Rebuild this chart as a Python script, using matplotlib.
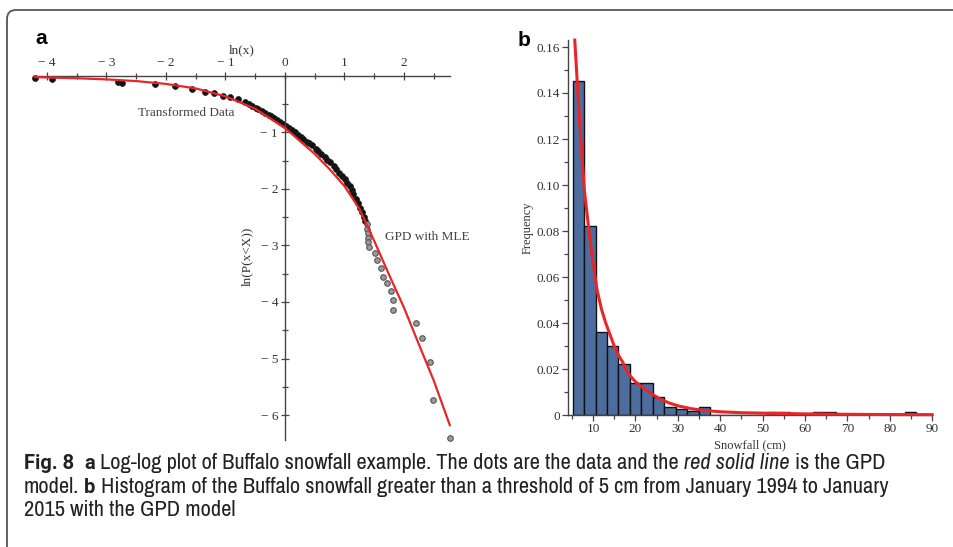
import matplotlib
matplotlib.use('Agg')
import matplotlib.pyplot as plt
import matplotlib.font_manager as fm
from matplotlib.patches import FancyBboxPatch
from matplotlib.transforms import IdentityTransform
from matplotlib.ticker import MultipleLocator, FuncFormatter

# ---------------- data ----------------
# Panel a: transformed data, ln(x) vs ln(P(x<X))
pts_black_lnx = [-4.20, -3.92, -2.81, -2.74, -2.18, -1.85, -1.56, -1.34, -1.19, -1.04, -0.92, -0.79, -0.67,
                 -0.60, -0.55, -0.49, -0.45, -0.38, -0.34, -0.27, -0.24, -0.18, -0.13, -0.09, -0.04, 0.01,
                 0.06, 0.12, 0.16, 0.22, 0.27, 0.31, 0.37, 0.41, 0.46, 0.52, 0.56, 0.61, 0.67, 0.71, 0.76,
                 0.82, 0.86, 0.91, 0.96, 1.01, 1.05, 1.09, 1.12, 1.15, 1.19, 1.22, 1.26, 1.29, 1.32, 1.35]
pts_black_lnp = [-0.035, -0.05, -0.11, -0.12, -0.14, -0.18, -0.23, -0.28, -0.30, -0.35, -0.37, -0.41, -0.46,
                 -0.50, -0.53, -0.56, -0.59, -0.62, -0.65, -0.69, -0.71, -0.75, -0.78, -0.81, -0.85, -0.88,
                 -0.92, -0.96, -0.99, -1.04, -1.08, -1.11, -1.16, -1.19, -1.23, -1.29, -1.33, -1.38, -1.44,
                 -1.48, -1.53, -1.60, -1.65, -1.71, -1.77, -1.83, -1.89, -1.95, -2.02, -2.09, -2.17, -2.24,
                 -2.33, -2.41, -2.49, -2.56]
pts_grey_lnx = [1.37, 1.38, 1.39, 1.40, 1.40, 1.41, 1.51, 1.54, 1.62, 1.65, 1.72, 1.78, 1.81, 1.82,
                2.21, 2.30, 2.44, 2.49, 2.77]
pts_grey_lnp = [-2.62, -2.70, -2.78, -2.86, -2.94, -3.02, -3.14, -3.26, -3.40, -3.55, -3.67, -3.80,
                -3.96, -4.14, -4.37, -4.64, -5.06, -5.73, -6.41]
gpd_a_lnx = [-4.20, -3.50, -3.00, -2.50, -2.00, -1.50, -1.00, -0.50, 0.00, 0.50, 0.75, 1.00, 1.25,
             1.50, 1.75, 2.00, 2.25, 2.50, 2.77]
gpd_a_lnp = [-0.02, -0.04, -0.06, -0.09, -0.14, -0.22, -0.36, -0.58, -0.92, -1.38, -1.65, -1.95, -2.35,
             -2.92, -3.52, -4.10, -4.75, -5.39, -6.18]
xticks_a = [-4, -3, -2, -1, 0, 1, 2]
yticks_a = [-1, -2, -3, -4, -5, -6]

# Panel b: histogram of snowfall > 5 cm
bin_edges = [5.2, 7.9, 10.6, 13.3, 16.0, 18.7, 21.4, 24.1, 26.8, 29.5, 32.2, 34.9, 37.6, 40.3, 43.0,
             45.7, 48.4, 51.1, 53.8, 56.5, 59.2, 61.9, 64.6, 67.3, 70.0, 72.7, 75.4, 78.1, 80.8, 83.5, 86.2]
freq = [0.145, 0.082, 0.036, 0.030, 0.022, 0.014, 0.014, 0.008, 0.0033, 0.0027, 0.0017, 0.0036, 0, 0,
        0, 0, 0, 0.0014, 0.0014, 0, 0, 0.0014, 0.0014, 0, 0, 0, 0, 0, 0, 0.0014]
gpd_b_x = [5.7, 6.5, 7.3, 8.0, 9.0, 10.0, 11.0, 12.0, 13.0, 14.0, 15.0, 16.0, 17.0, 18.0, 19.0, 20.0,
           22.0, 24.0, 26.0, 28.0, 30.0, 33.0, 36.0, 40.0, 45.0, 50.0, 60.0, 70.0, 80.0, 90.0]
gpd_b_y = [0.163, 0.138, 0.115, 0.097, 0.081, 0.066, 0.054, 0.046, 0.040, 0.035, 0.030, 0.026, 0.023,
           0.019, 0.0165, 0.0145, 0.0115, 0.009, 0.0068, 0.0052, 0.0040, 0.0028, 0.0020, 0.0014, 0.0010,
           0.0008, 0.0005, 0.0003, 0.0002, 0.00015]
xticks_b = [10, 20, 30, 40, 50, 60, 70, 80, 90]
yticks_b = [0, 0.02, 0.04, 0.06, 0.08, 0.10, 0.12, 0.14, 0.16]

caption_lines = [
    [("Fig. 8", "bold", "normal"), ("  ", None, None), ("a", "bold", "normal"),
     (" Log-log plot of Buffalo snowfall example. The dots are the data and the", "normal", "normal"),
     (" ", None, None), ("red solid line", "normal", "italic"), (" is the GPD", "normal", "normal")],
    [("model.", "normal", "normal"), (" ", None, None), ("b", "bold", "normal"),
     (" Histogram of the Buffalo snowfall greater than a threshold of 5 cm from January 1994 to January",
      "normal", "normal")],
    [("2015 with the GPD model", "normal", "normal")],
]

# ---------------- figure ----------------
W, H = 954, 547
fig = plt.figure(figsize=(W / 100, H / 100), dpi=100)
fig.patch.set_facecolor('white')

serif = ['Liberation Serif', 'DejaVu Serif']
entries = fm.fontManager.ttflist


def wnum(w):
    if isinstance(w, (int, float)):
        return w
    return {'bold': 700, 'semibold': 600, 'demibold': 600, 'heavy': 800, 'black': 900,
            'extra bold': 800, 'normal': 400, 'regular': 400}.get(str(w).lower(), 400)


def pick_caption_font():
    for f in entries:
        if 'Narrow' in f.name or ('Condensed' in f.name and 'Sans' in f.name):
            return f.name, 'normal'
    for fam in ['Open Sans', 'Noto Sans', 'DejaVu Sans', 'Roboto']:
        for f in entries:
            if f.name == fam and str(f.stretch) in ('condensed', 'semi-condensed'):
                return fam, str(f.stretch)
    return ('Roboto' if any(f.name == 'Roboto' for f in entries) else 'Liberation Sans'), 'normal'


cap_font, cap_stretch = pick_caption_font()
has_bold = any(f.name == cap_font and wnum(f.weight) >= 600 for f in entries)
if has_bold:
    bold_font, bold_stretch, bold_scale = cap_font, cap_stretch, 1.0
else:
    bold_font = 'Roboto' if any(f.name == 'Roboto' for f in entries) else 'Liberation Sans'
    bold_stretch, bold_scale = 'normal', 0.9


def run_font(weight):
    if weight == 'bold':
        return bold_font, bold_stretch, bold_scale
    return cap_font, cap_stretch, 1.0


# outer frame (clipped at right and bottom)
frame = FancyBboxPatch((7, -30), 990, H - 10 + 30, boxstyle="round,pad=0,rounding_size=9",
                       transform=IdentityTransform(), fill=False, edgecolor='#555555', linewidth=1.3)
fig.add_artist(frame)

axis_col = '#444444'


def fx(px):
    return px / W


def fy(py):
    return 1 - py / H


# ---------------- panel a ----------------
xa0, xa1 = -4.22, 2.78
ya0, ya1 = -6.45, 0.0
left_px = 285 + xa0 * 59.5
right_px = 285 + xa1 * 59.5
top_px = 76
bot_px = 76 - ya0 * 56.5
ax1 = fig.add_axes([fx(left_px), fy(bot_px), fx(right_px) - fx(left_px), fy(top_px) - fy(bot_px)])
ax1.set_xlim(xa0, xa1)
ax1.set_ylim(ya0, ya1)
ax1.patch.set_alpha(0)
for s in ['bottom', 'right']:
    ax1.spines[s].set_visible(False)
ax1.spines['left'].set_position(('data', 0))
ax1.spines['top'].set_position(('data', 0))
for s in ['left', 'top']:
    ax1.spines[s].set_color(axis_col)
    ax1.spines[s].set_linewidth(1.0)
ax1.xaxis.set_ticks_position('top')
ax1.xaxis.set_label_position('top')
ax1.set_xticks(xticks_a)
ax1.set_yticks(yticks_a)
ax1.xaxis.set_minor_locator(MultipleLocator(0.5))
ax1.yaxis.set_minor_locator(MultipleLocator(0.5))
ax1.tick_params(which='both', direction='inout', color=axis_col, width=0.9)
ax1.tick_params(which='major', length=6, pad=2, labelsize=9.5, labelcolor='#333333')
ax1.tick_params(which='minor', length=4)
fmt_a = FuncFormatter(lambda v, p: ('\u2212 %d' % abs(v)) if v < 0 else '%d' % v)
ax1.xaxis.set_major_formatter(fmt_a)
ax1.yaxis.set_major_formatter(fmt_a)
for lab in ax1.get_xticklabels() + ax1.get_yticklabels():
    lab.set_family(serif)

ax1.plot(gpd_a_lnx, gpd_a_lnp, color='#e8262a', lw=1.6, zorder=3, clip_on=False)
ax1.plot(pts_black_lnx, pts_black_lnp, 'o', ms=4.2, mfc='#111111', mec='#222222', mew=0.6,
         zorder=2, clip_on=False)
ax1.plot(pts_grey_lnx, pts_grey_lnp, 'o', ms=4.0, mfc='#9a9a9a', mec='#555555', mew=0.8,
         zorder=2, clip_on=False)

ax1.text(-0.72, 0.46, 'ln(x)', ha='center', va='center', fontsize=9.5, family=serif, color='#333333',
         clip_on=False)
ax1.text(-0.64, -3.2, 'ln(P(x<X))', ha='center', va='center', rotation=90, fontsize=9.5,
         family=serif, color='#333333')
ax1.text(-2.47, -0.65, 'Transformed Data', ha='left', va='center', fontsize=9.5, family=serif,
         color='#444444')
ax1.text(1.68, -2.85, 'GPD with MLE', ha='left', va='center', fontsize=9.5, family=serif,
         color='#444444', clip_on=False)

# ---------------- panel b ----------------
xb0, xb1 = 4.1, 90.0
yb0, yb1 = 0.0, 0.163
x0_px = 550.6
bl = x0_px + xb0 * 4.24
br = x0_px + xb1 * 4.24
bb = 415
bt = 415 - yb1 * 2300
ax2 = fig.add_axes([fx(bl), fy(bb), fx(br) - fx(bl), fy(bt) - fy(bb)])
ax2.set_xlim(xb0, xb1)
ax2.set_ylim(yb0, yb1)
ax2.patch.set_alpha(0)
for s in ['top', 'right']:
    ax2.spines[s].set_visible(False)
for s in ['left', 'bottom']:
    ax2.spines[s].set_color(axis_col)
    ax2.spines[s].set_linewidth(1.0)
lefts = bin_edges[:-1]
widths = [b - a for a, b in zip(bin_edges[:-1], bin_edges[1:])]
ax2.bar(lefts, freq, width=widths, align='edge', color='#4d6d9e', edgecolor='#111111',
        linewidth=1.0, zorder=2)
ax2.plot(gpd_b_x, gpd_b_y, color='#e8262a', lw=2.2, zorder=3, clip_on=False)
ax2.set_xticks(xticks_b)
ax2.set_yticks(yticks_b)
ax2.xaxis.set_minor_locator(MultipleLocator(5))
ax2.yaxis.set_minor_locator(MultipleLocator(0.01))
ax2.tick_params(which='both', direction='out', color=axis_col, width=0.9)
ax2.tick_params(which='major', length=4, pad=2, labelsize=9.5, labelcolor='#333333')
ax2.tick_params(which='minor', length=3)
ax2.yaxis.set_major_formatter(FuncFormatter(lambda v, p: '0' if abs(v) < 1e-9 else '%.2f' % v))
for lab in ax2.get_xticklabels() + ax2.get_yticklabels():
    lab.set_family(serif)
ax2.set_xlabel('Snowfall (cm)', fontsize=9, family=serif, color='#333333', labelpad=3)
ax2.set_ylabel('Frequency', fontsize=9, family=serif, color='#333333', labelpad=2)

# panel letters
fig.text(fx(35), fy(38), 'a', fontsize=15, fontweight='bold', family=['Liberation Sans', 'DejaVu Sans'],
         ha='left', va='center')
fig.text(fx(518), fy(40), 'b', fontsize=15, fontweight='bold', family=['Liberation Sans', 'DejaVu Sans'],
         ha='left', va='center')

# ---------------- caption ----------------
renderer = fig.canvas.get_renderer()


def text_width(s, size, weight, style):
    fam, stretch, sc = run_font(weight)
    t = fig.text(0, 0, s, fontsize=size * sc, fontweight=weight, fontstyle=style, family=fam,
                 fontstretch=stretch)
    w = t.get_window_extent(renderer).width
    t.remove()
    return w


def line_width(runs, size):
    sp = text_width('n n', size, 'normal', 'normal') - text_width('nn', size, 'normal', 'normal')
    total = 0
    for txt, wt, st in runs:
        if wt is None:
            total += sp * len(txt)
            continue
        core = txt.strip(' ')
        nl = len(txt) - len(txt.lstrip(' '))
        nt = len(txt) - len(txt.rstrip(' '))
        total += sp * (nl + nt) + text_width(core, size, wt, st)
    return total, sp


base = 12.5
w1, _ = line_width(caption_lines[0], base)
w2, _ = line_width(caption_lines[1], base)
cap_size = base * ((858 - 24) + (918 - 24)) / (w1 + w2)

baselines = [469, 493, 516]
for runs, ybase in zip(caption_lines, baselines):
    _, sp = line_width(runs, cap_size)
    x = 24.0
    for txt, wt, st in runs:
        if wt is None:
            x += sp * len(txt)
            continue
        nl = len(txt) - len(txt.lstrip(' '))
        nt = len(txt) - len(txt.rstrip(' '))
        core = txt.strip(' ')
        x += sp * nl
        fam, stretch, sc = run_font(wt)
        t = fig.text(fx(x), fy(ybase), core, fontsize=cap_size * sc, fontweight=wt, fontstyle=st,
                     family=fam, fontstretch=stretch, ha='left', va='baseline', color='#222222')
        x += t.get_window_extent(renderer).width + sp * nt

fig.savefig('out.png', dpi=100, facecolor='white')
